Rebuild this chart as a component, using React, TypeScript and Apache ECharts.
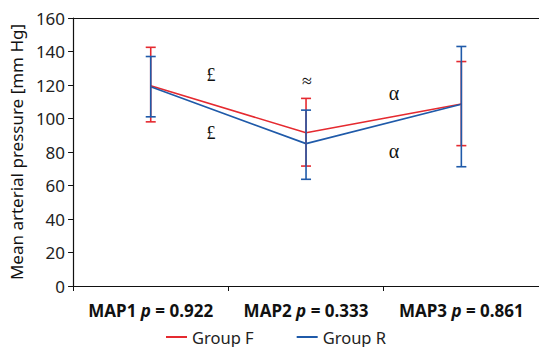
import React, { useEffect, useRef } from "react";
import * as echarts from "echarts";

const categories = ["MAP1", "MAP2", "MAP3"];
const pValues = ["0.922", "0.333", "0.861"];
const groupFMean = [119.5, 91.5, 108.7];
const groupFLow = [98, 71.6, 83.8];
const groupFHigh = [142.5, 112, 134];
const groupRMean = [119, 85, 108.5];
const groupRLow = [101, 63.7, 71.2];
const groupRHigh = [137, 105, 143];
const yTicks = { min: 0, max: 160, interval: 20 };

const RED = "#e52a30";
const BLUE = "#1f5aa9";
const FONT = "Noto Sans";

function errorBarSeries(name: string, color: string, low: number[], high: number[]) {
  return {
    type: "custom",
    name: name + " SD",
    z: name === "Group R" ? 4 : 3,
    renderItem: (params: any, api: any) => {
      const x = api.value(0);
      const lo = api.coord([x, api.value(1)]);
      const hi = api.coord([x, api.value(2)]);
      const hw = 5;
      const style = { stroke: color, lineWidth: 1.6 };
      return {
        type: "group",
        children: [
          { type: "line", shape: { x1: lo[0], y1: lo[1], x2: hi[0], y2: hi[1] }, style },
          { type: "line", shape: { x1: lo[0] - hw, y1: lo[1], x2: lo[0] + hw, y2: lo[1] }, style },
          { type: "line", shape: { x1: hi[0] - hw, y1: hi[1], x2: hi[0] + hw, y2: hi[1] }, style },
        ],
      };
    },
    data: categories.map((_, i) => [i, low[i], high[i]]),
    silent: true,
  };
}

export default function App() {
  const ref = useRef<HTMLDivElement>(null);
  useEffect(() => {
    if (!ref.current) return;
    const chart = echarts.init(ref.current, null, { renderer: "svg" });
    const serif = "Liberation Serif";
    chart.setOption({
      animation: false,
      backgroundColor: "#ffffff",
      textStyle: { fontFamily: FONT },
      grid: { left: 70, top: 18, width: 471, height: 268 },
      legend: {
        left: 166,
        top: 327,
        padding: 0,
        itemWidth: 21,
        itemHeight: 2,
        itemGap: 43,
        icon: "rect",
        data: [
          { name: "Group F", itemStyle: { color: RED } },
          { name: "Group R", itemStyle: { color: BLUE } },
        ],
        textStyle: { fontFamily: FONT, fontSize: 16.5, color: "#222", lineHeight: 20 },
      },
      xAxis: [
        {
          type: "category",
          data: categories,
          axisLine: { lineStyle: { color: "#111", width: 1.2 } },
          axisTick: { show: true, length: 5, inside: false, lineStyle: { color: "#111" } },
          axisLabel: {
            interval: 0,
            margin: 16,
            formatter: (v: string) => {
              const i = categories.indexOf(v);
              return `{b|${v} }{i|p}{b| = ${pValues[i]}}`;
            },
            rich: {
              b: { fontFamily: FONT, fontWeight: "bold", fontSize: 17, color: "#111" },
              i: { fontFamily: FONT, fontWeight: "bold", fontStyle: "italic", fontSize: 17, color: "#111" },
            },
          },
        },
        {
          type: "category",
          position: "top",
          data: categories,
          axisLine: { show: true, lineStyle: { color: "#111", width: 1.2 } },
          axisTick: { show: false },
          axisLabel: { show: false },
        },
      ],
      yAxis: {
        type: "value",
        min: yTicks.min,
        max: yTicks.max,
        interval: yTicks.interval,
        name: "Mean arterial pressure [mm Hg]",
        nameLocation: "middle",
        nameGap: 43,
        nameTextStyle: { fontFamily: FONT, fontSize: 17, color: "#111" },
        axisLine: { show: true, lineStyle: { color: "#111", width: 1.2 } },
        axisTick: { show: true, length: 5, lineStyle: { color: "#111" } },
        axisLabel: { margin: 8, fontFamily: FONT, fontSize: 17, color: "#222" },
        splitLine: { show: false },
      },
      graphic: [
        { type: "text", x: 211, y: 75, style: { text: "£", font: `18px "${serif}"`, fill: "#111", align: "center", verticalAlign: "middle" } },
        { type: "text", x: 211, y: 133, style: { text: "£", font: `18px "${serif}"`, fill: "#111", align: "center", verticalAlign: "middle" } },
        { type: "text", x: 307, y: 81, style: { text: "≈", font: `18px "${serif}"`, fill: "#111", align: "center", verticalAlign: "middle" } },
        { type: "text", x: 394, y: 93, style: { text: "α", font: `20px "${serif}"`, fill: "#111", align: "center", verticalAlign: "middle" } },
        { type: "text", x: 394, y: 151, style: { text: "α", font: `20px "${serif}"`, fill: "#111", align: "center", verticalAlign: "middle" } },
      ],
      series: [
        {
          name: "Group F",
          type: "line",
          data: groupFMean,
          symbol: "none",
          color: RED,
          lineStyle: { color: RED, width: 1.6 },
          z: 2,
        },
        {
          name: "Group R",
          type: "line",
          data: groupRMean,
          symbol: "none",
          color: BLUE,
          lineStyle: { color: BLUE, width: 1.6 },
          z: 2,
        },
        errorBarSeries("Group F", RED, groupFLow, groupFHigh),
        errorBarSeries("Group R", BLUE, groupRLow, groupRHigh),
      ],
    });
    return () => chart.dispose();
  }, []);
  return (
    <div
      ref={ref}
      style={{ position: "fixed", left: 0, top: 0, width: 539, height: 347 }}
    />
  );
}
